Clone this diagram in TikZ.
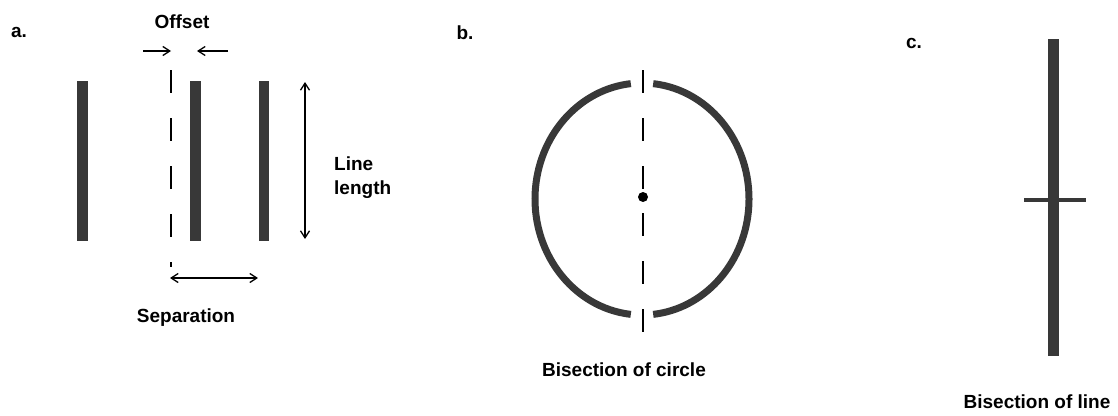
\documentclass[tikz,border=0pt]{standalone}
\usepackage{fontspec}
\setmainfont{Liberation Sans}
\usepackage{tikz}
\usetikzlibrary{arrows.meta, positioning}

\begin{document}
\begin{tikzpicture}[
  x=1pt, y=-1pt,
  lbl/.style={font=\bfseries\fontsize{19}{24}\selectfont, inner sep=0pt},
  bar/.style={fill=black!78},
  ring/.style={draw=black!78, line width=7pt},
  dashln/.style={line width=2pt, dash pattern=on 23pt off 25pt},
  dim/.style={line width=1.3pt, -{Straight Barb[length=7pt, width=9pt, line width=1.3pt]}},
  dimboth/.style={line width=1.3pt, {Straight Barb[length=7pt, width=9pt, line width=1.3pt]}-{Straight Barb[length=7pt, width=9pt, line width=1.3pt]}},
]
\useasboundingbox (0,0) rectangle (1118,415);

% Panel a: offset and separation
\node[lbl] (a-tag) at (19,32) {a.};
\node[lbl] (a-offset) at (182,22) {Offset};
\fill[bar] (77,81) rectangle (88,241);
\fill[bar] (190,81) rectangle (201,241);
\fill[bar] (259,81) rectangle (269,241);
\draw[dashln] (171,70) -- (171,238);
\draw[line width=2pt] (171,262) -- (171,267);

\coordinate (off-l0) at (143,51);
\coordinate (off-l1) at (171,51);
\coordinate (off-r0) at (228,51);
\coordinate (off-r1) at (197,51);
\draw[dim] (off-l0) -- (off-l1);
\draw[dim] (off-r0) -- (off-r1);

\coordinate (len-top) at (305,82);
\coordinate (len-bot) at (305,239);
\draw[dimboth] (len-top) -- (len-bot);
\node[lbl, anchor=west, align=left] (a-length) at (334,178) {Line\\length};

\coordinate (sep-l) at (170,278);
\coordinate (sep-r) at (258,278);
\draw[dimboth] (sep-l) -- (sep-r);
\node[lbl] (a-sep) at (186,318) {Separation};

% Panel b: bisection of circle
\node[lbl] (b-tag) at (465,33) {b.};
\draw[ring] (642,199) ++(96:107 and 116) arc[start angle=96, end angle=264, x radius=107, y radius=116];
\draw[ring] (642,199) ++(-84:107 and 116) arc[start angle=-84, end angle=84, x radius=107, y radius=116];
\draw[dashln] (643,70) -- (643,190);
\draw[dashln] (643,213) -- (643,332);
\fill (643,197) circle[radius=5];
\node[lbl] (b-cap) at (624,370) {Bisection of circle};

% Panel c: bisection of line
\node[lbl] (c-tag) at (914,43) {c.};
\fill[bar] (1048,39) rectangle (1059,356);
\fill[bar] (1024,198) rectangle (1086,202);
\node[lbl] (c-cap) at (1037,402) {Bisection of line};

\end{tikzpicture}
\end{document}
